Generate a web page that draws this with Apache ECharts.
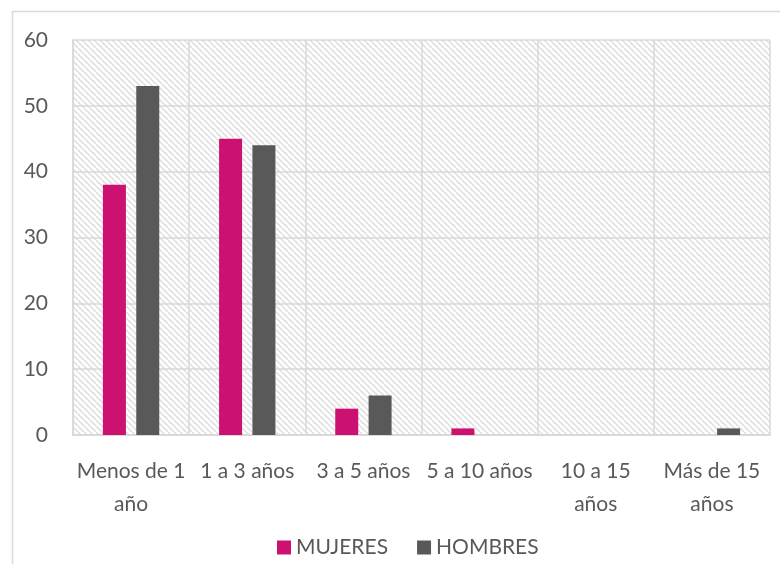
<!DOCTYPE html>
<html lang="es">
<head>
    <meta charset="UTF-8">
    <title>Antigüedad</title>
    <script src="https://cdn.jsdelivr.net/npm/echarts@6/dist/echarts.min.js"></script>
</head>
<body style="margin:0">
<div id="container" style="width:780px;height:564px"></div>

<script type="text/javascript">
    var categories = ['Menos de 1\naño', '1 a 3 años', '3 a 5 años', '5 a 10 años', '10 a 15\naños', 'Más de 15\naños'];
    var mujeres = [38, 45, 4, 1, 0, 0];
    var hombres = [53, 44, 6, 0, 0, 1];
    var yTicks = [0, 10, 20, 30, 40, 50, 60];

    // trama diagonal del fondo
    var tile = document.createElement('canvas');
    tile.width = 6;
    tile.height = 6;
    var ctx = tile.getContext('2d');
    ctx.fillStyle = '#ffffff';
    ctx.fillRect(0, 0, 6, 6);
    ctx.strokeStyle = '#e0e0e0';
    ctx.lineWidth = 1.6;
    ctx.beginPath();
    [-6, 0, 6].forEach(function (o) {
        ctx.moveTo(o, 0);
        ctx.lineTo(o + 6, 6);
    });
    ctx.stroke();

    var dom = document.getElementById('container');
    var myChart = echarts.init(dom, null, {renderer: 'canvas'});
    var font = 'Lato, "Open Sans", sans-serif';

    var option = {
        animation: false,
        textStyle: {fontFamily: font},
        graphic: [{
            type: 'rect',
            shape: {x: 12.5, y: 11.5, width: 800, height: 600},
            style: {fill: null, stroke: '#d9d9d9', lineWidth: 1.5},
            z: -10
        }],
        grid: {
            left: 73, right: 10, top: 40, bottom: 129,
            show: true,
            borderWidth: 0,
            backgroundColor: {image: tile, repeat: 'repeat'}
        },
        legend: {
            left: 272,
            top: 532,
            itemWidth: 14,
            itemHeight: 14,
            itemGap: 29,
            icon: 'rect',
            textStyle: {fontSize: 21, color: '#595959', fontFamily: font}
        },
        xAxis: {
            type: 'category',
            data: categories,
            axisTick: {show: false},
            axisLine: {lineStyle: {color: '#d9d9d9', width: 2}},
            splitLine: {show: true, lineStyle: {color: '#d9d9d9', width: 1.5}},
            axisLabel: {
                interval: 0,
                margin: 20,
                fontSize: 21,
                lineHeight: 33,
                color: '#595959',
                fontFamily: font
            }
        },
        yAxis: {
            type: 'value',
            min: yTicks[0],
            max: yTicks[yTicks.length - 1],
            interval: 10,
            axisLine: {show: true, lineStyle: {color: '#d9d9d9', width: 1.5}},
            axisTick: {show: false},
            splitLine: {lineStyle: {color: '#d9d9d9', width: 1.5}},
            axisLabel: {margin: 25, fontSize: 21, color: '#595959', fontFamily: font}
        },
        series: [
            {
                name: 'MUJERES',
                type: 'bar',
                data: mujeres,
                barWidth: 23,
                barGap: '45%',
                itemStyle: {color: '#cc1170'}
            },
            {
                name: 'HOMBRES',
                type: 'bar',
                data: hombres,
                barWidth: 23,
                barGap: '45%',
                itemStyle: {color: '#595959'}
            }
        ]
    };

    myChart.setOption(option);
    window.addEventListener('resize', myChart.resize);
</script>
</body>
</html>
